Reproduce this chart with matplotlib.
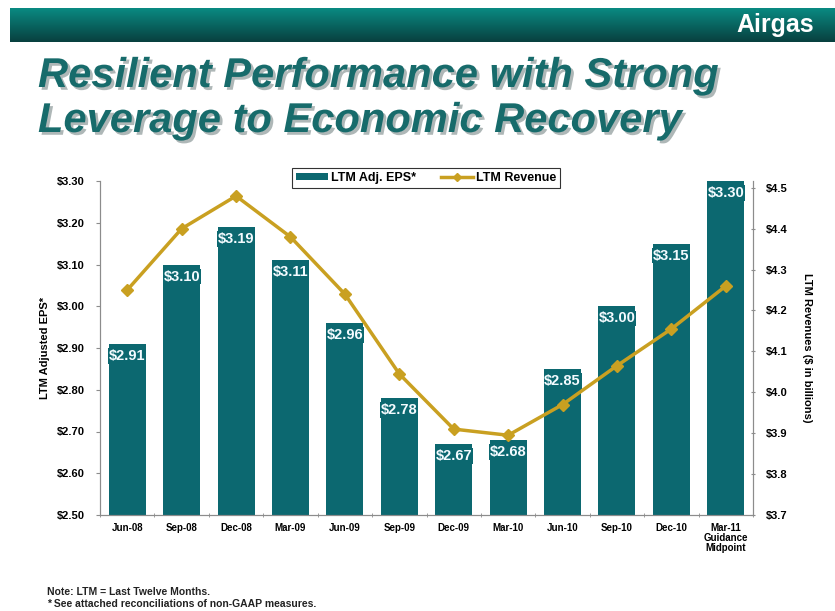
import numpy as np
import matplotlib
matplotlib.use("Agg")
import matplotlib.pyplot as plt
import matplotlib.patheffects as pe
from matplotlib.patches import Patch
from matplotlib.lines import Line2D

plt.rcParams['font.family'] = ['Liberation Sans', 'DejaVu Sans']

periods = ["Jun-08", "Sep-08", "Dec-08", "Mar-09", "Jun-09", "Sep-09",
           "Dec-09", "Mar-10", "Jun-10", "Sep-10", "Dec-10",
           "Mar-11\nGuidance\nMidpoint"]
eps = [2.91, 3.10, 3.19, 3.11, 2.96, 2.78, 2.67, 2.68, 2.85, 3.00, 3.15, 3.30]
revenue = [4.25, 4.40, 4.48, 4.38, 4.24, 4.045, 3.91, 3.895, 3.97, 4.065, 4.155, 4.26]
eps_ticks = [2.50, 2.60, 2.70, 2.80, 2.90, 3.00, 3.10, 3.20, 3.30]
rev_ticks = [3.7, 3.8, 3.9, 4.0, 4.1, 4.2, 4.3, 4.4, 4.5]

teal = "#0c6870"
gold = "#c9a021"
grey = "#8c8c8c"

fig = plt.figure(figsize=(8.35, 6.11), dpi=100)

# header band with gradient
hdr = fig.add_axes([10 / 835, 1 - 42 / 611, 825 / 835, 34 / 611])
grad = np.linspace(0, 1, 64).reshape(-1, 1)
cmap = matplotlib.colors.LinearSegmentedColormap.from_list("hdr", ["#0a8a82", "#08403f"])
hdr.imshow(grad, aspect="auto", cmap=cmap, extent=[0, 1, 0, 1], origin="upper")
hdr.set_axis_off()
hdr.text(0.975, 0.5, "Airgas", color="white", fontsize=18, fontweight="bold",
         ha="right", va="center", transform=hdr.transAxes)

title_fx = [pe.withSimplePatchShadow(offset=(2, -2), shadow_rgbFace="#9aa5a5", alpha=0.8)]
fig.text(38 / 835, 1 - 76 / 611, "Resilient Performance with Strong", fontsize=30,
         fontweight="bold", fontstyle="italic", color="#176b6b", va="center",
         path_effects=title_fx)
fig.text(38 / 835, 1 - 121 / 611, "Leverage to Economic Recovery", fontsize=30,
         fontweight="bold", fontstyle="italic", color="#176b6b", va="center",
         path_effects=title_fx)

ax = fig.add_axes([100 / 835, 1 - 515 / 611, 653 / 835, 334 / 611])
x = np.arange(len(periods))
bars = ax.bar(x, eps, width=0.68, color=teal, zorder=2)
ax.set_ylim(2.50, 3.30)
ax.set_xlim(-0.5, len(periods) - 0.5)
ax.set_yticks(eps_ticks)
ax.set_yticklabels(["$%.2f" % v for v in eps_ticks], fontsize=8, fontweight="bold")
ax.set_xticks(x)
ax.set_xticklabels(periods, fontsize=7, fontweight="bold", linespacing=1.0)
ax.set_xticks(np.arange(-0.5, len(periods), 1), minor=True)
ax.tick_params(axis="x", which="major", length=0, pad=6)
ax.tick_params(axis="x", which="minor", length=3, color=grey, direction="inout")
ax.tick_params(axis="y", length=3, color=grey, pad=28)
for lab in ax.get_yticklabels():
    lab.set_horizontalalignment("left")
ax.spines["top"].set_visible(False)
for s in ["left", "right", "bottom"]:
    ax.spines[s].set_color(grey)
ax.set_ylabel("LTM Adjusted EPS*", fontsize=8, fontweight="bold", labelpad=5)

for xi, v in zip(x, eps):
    ax.text(xi, v - 0.012, "$%.2f" % v, ha="center", va="top", color="#f4fbff",
            fontsize=10.5, fontweight="bold", zorder=3,
            bbox=dict(boxstyle="square,pad=0.05", fc=teal, ec="none"))

ax2 = ax.twinx()
ax2.plot(x, revenue, color=gold, lw=2.5, marker="D", markersize=6, zorder=4)
ax2.set_ylim(3.7, 3.7 + 334 / 409)
ax2.set_yticks(rev_ticks)
ax2.set_yticklabels(["$%.1f" % v for v in rev_ticks], fontsize=8, fontweight="bold")
ax2.tick_params(axis="y", length=3, color=grey, direction="inout", pad=8)
ax2.spines["top"].set_visible(False)
for s in ["left", "right", "bottom"]:
    ax2.spines[s].set_color(grey)
ax2.set_ylabel("LTM Revenues ($ in billions)", fontsize=8, fontweight="bold",
               rotation=-90, labelpad=17)

handles = [Patch(facecolor=teal, edgecolor="none"),
           Line2D([0], [0], color=gold, lw=2.5, marker="D", markersize=4)]
leg = fig.legend(handles, ["LTM Adj. EPS*", "LTM Revenue"], ncol=2,
                 loc="center", bbox_to_anchor=(426 / 835, 1 - 178 / 611),
                 fontsize=9, frameon=True, fancybox=False, edgecolor="black",
                 handlelength=2.6, handleheight=0.5, handletextpad=0.2,
                 columnspacing=2.0, borderpad=0.3, borderaxespad=0)
leg.get_frame().set_linewidth(0.8)
for t in leg.get_texts():
    t.set_fontweight("bold")

fig.text(47 / 835, 1 - 592 / 611, "Note: LTM = Last Twelve Months.", fontsize=7.5,
         fontweight="bold", va="center", color="#222222")
fig.text(47 / 835, 1 - 604 / 611, "* See attached reconciliations of non-GAAP measures.",
         fontsize=7.5, fontweight="bold", va="center", color="#222222")

fig.savefig("out.png", dpi=100)
